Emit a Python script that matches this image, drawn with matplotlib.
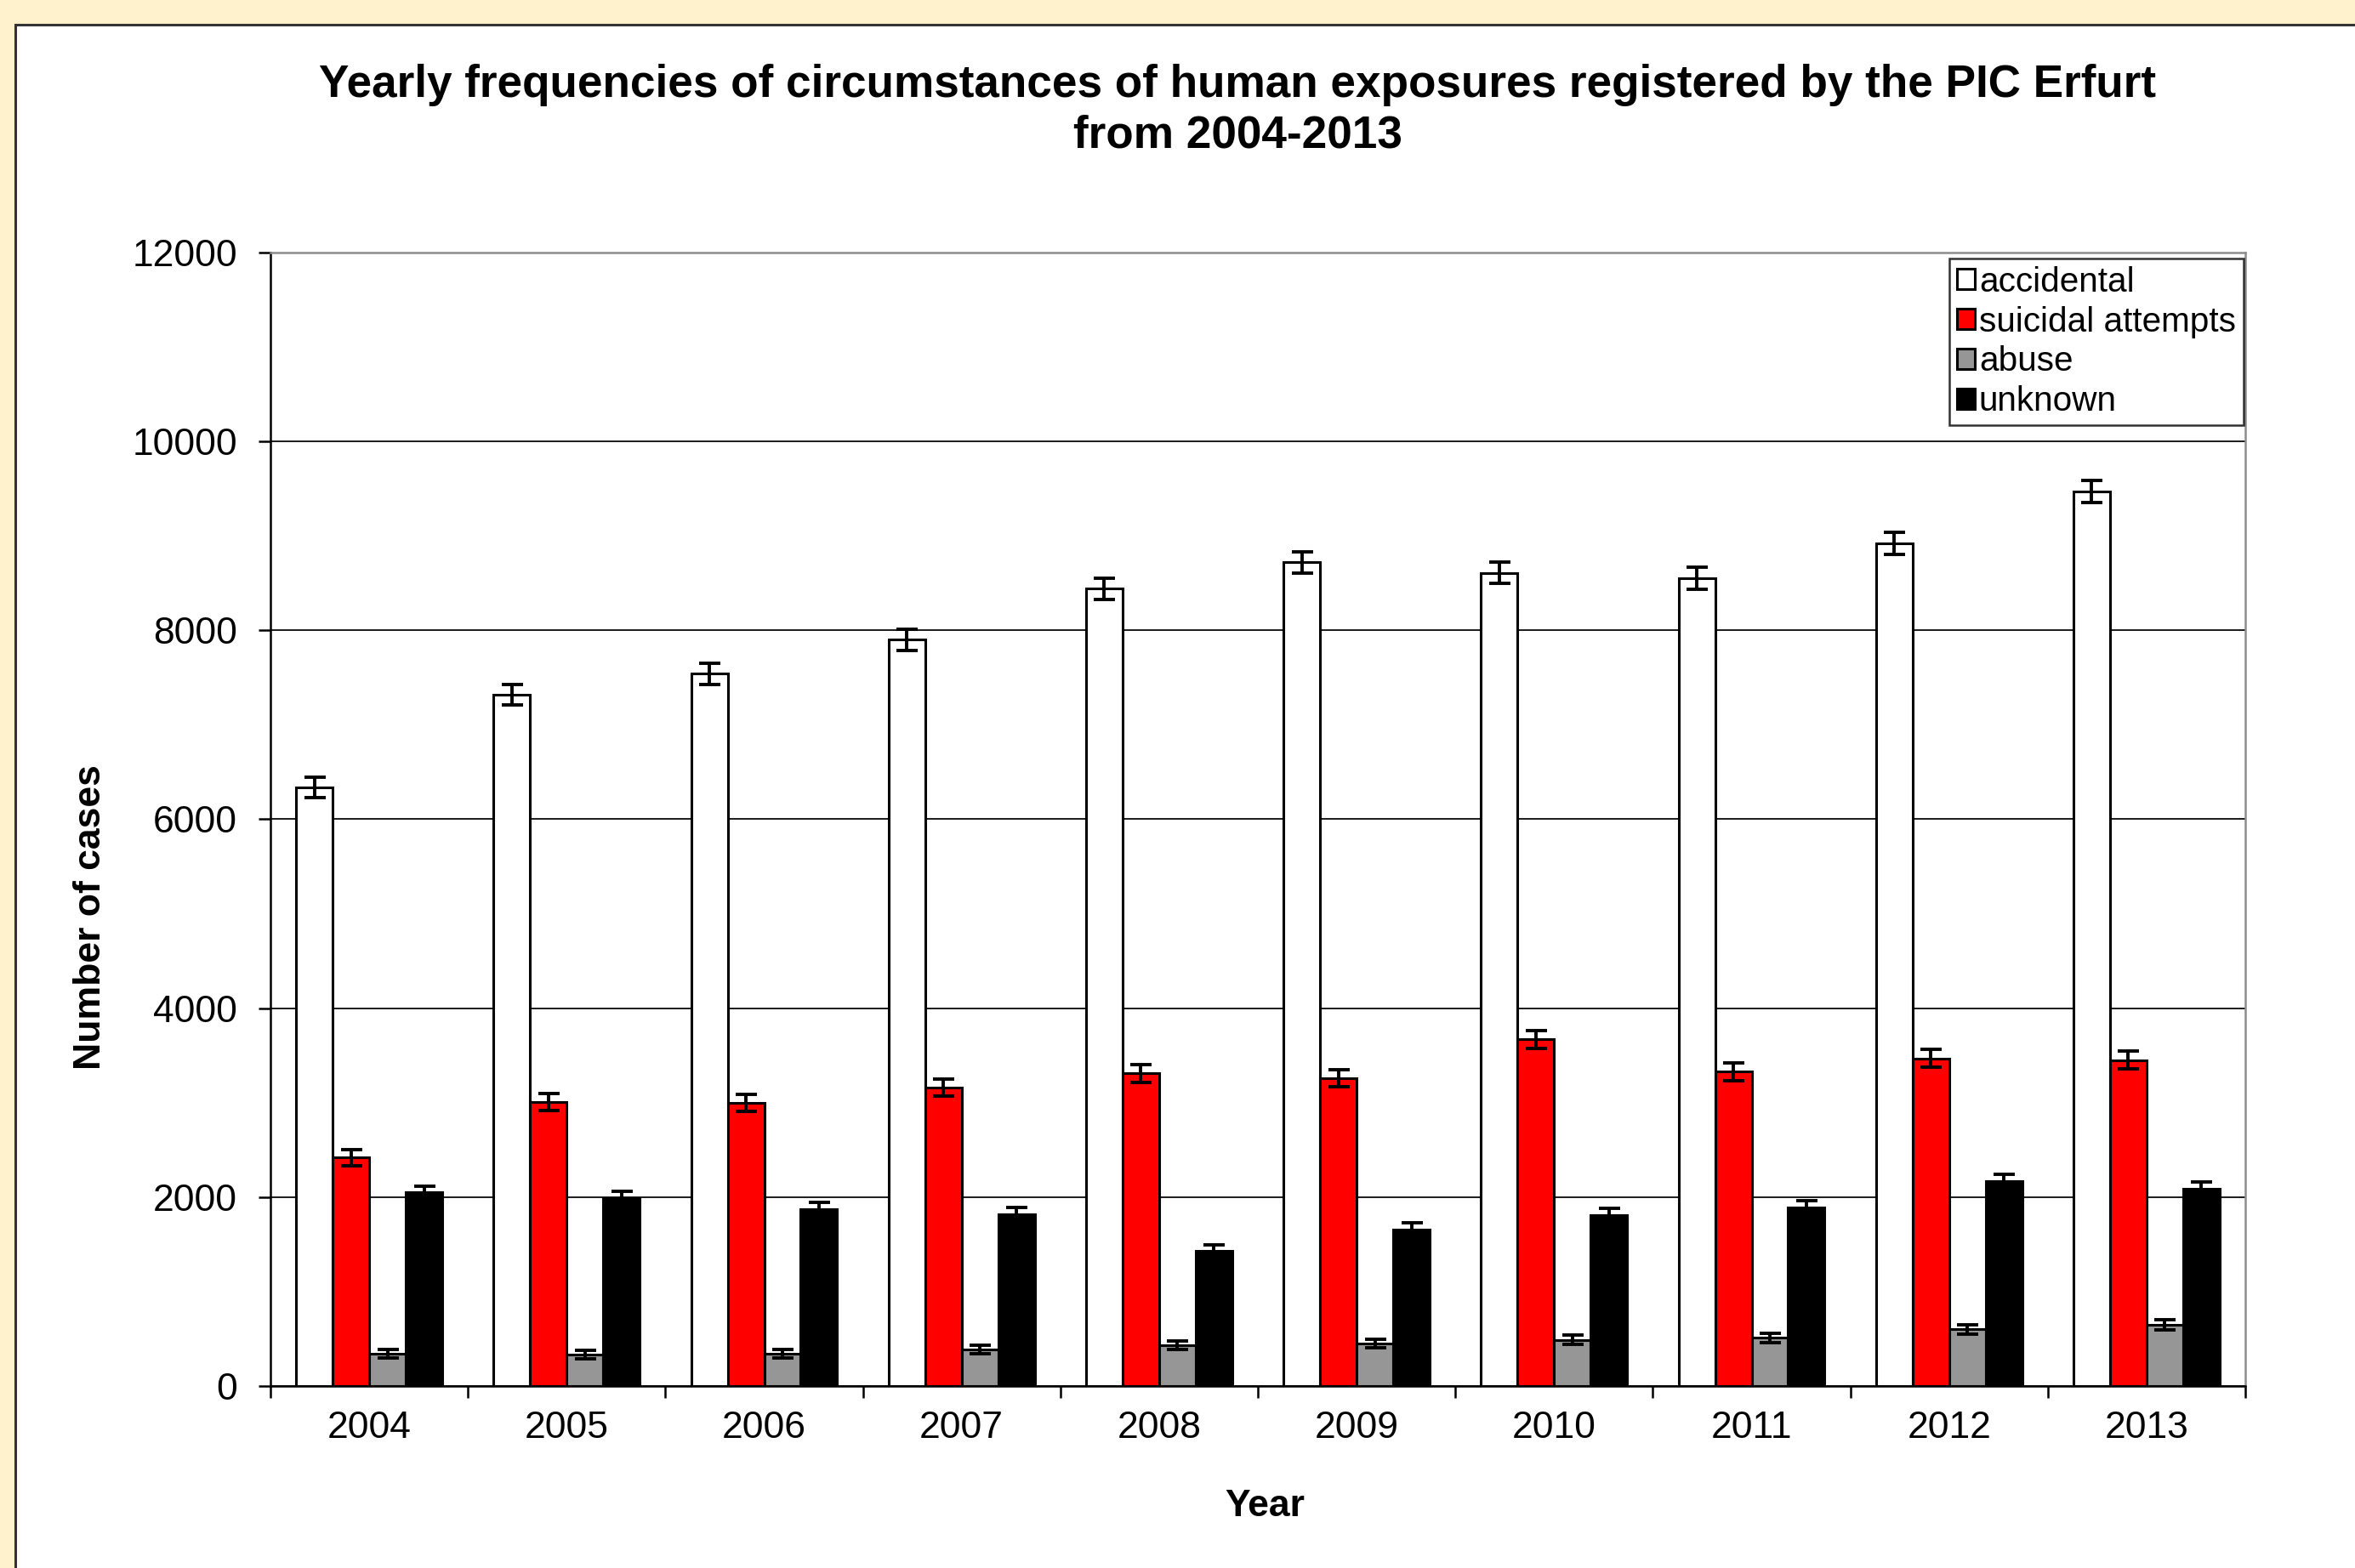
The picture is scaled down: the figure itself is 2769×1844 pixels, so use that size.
import matplotlib
matplotlib.use("Agg")
import matplotlib.pyplot as plt
import numpy as np
from matplotlib.patches import Rectangle

plt.rcParams['font.family'] = ['Liberation Sans', 'DejaVu Sans']

years = ['2004', '2005', '2006', '2007', '2008', '2009', '2010', '2011', '2012', '2013']
accidental = [6340, 7320, 7540, 7900, 8440, 8720, 8610, 8550, 8920, 9470]
suicidal = [2420, 3010, 3000, 3160, 3310, 3260, 3670, 3330, 3470, 3450]
abuse = [340, 330, 340, 390, 430, 450, 490, 510, 600, 650]
unknown = [2050, 1990, 1870, 1820, 1430, 1660, 1810, 1890, 2170, 2090]
# error bar half-widths
err_accidental = [110, 110, 115, 115, 115, 115, 115, 115, 120, 120]
err_suicidal = [85, 90, 90, 90, 95, 90, 95, 95, 95, 95]
err_abuse = [45, 45, 45, 45, 45, 45, 50, 50, 50, 55]
err_unknown = [70, 70, 70, 70, 65, 70, 70, 70, 75, 75]

series = [
    ('accidental', accidental, err_accidental, 'white'),
    ('suicidal attempts', suicidal, err_suicidal, '#ff0000'),
    ('abuse', abuse, err_abuse, '#969696'),
    ('unknown', unknown, err_unknown, 'black'),
]

fig = plt.figure(figsize=(13.845, 9.22), dpi=200)
fig.patch.set_facecolor('#fff2cc')
# white chart panel with dark border
fig.patches.append(Rectangle((18 / 2769, -0.01), 1.0, 1 - 29 / 1844 + 0.01,
                             transform=fig.transFigure, facecolor='white',
                             edgecolor='#333333', linewidth=1.1, zorder=-10))

ax = fig.add_axes([318 / 2769, 1 - 1630 / 1844, (2640 - 318) / 2769, (1630 - 297) / 1844])
ax.set_facecolor('white')

x = np.arange(len(years))
w = 0.185
for i, (name, vals, errs, col) in enumerate(series):
    ax.bar(x + (i - 1.5) * w, vals, w, color=col, edgecolor='black', linewidth=1.1,
           label=name, zorder=3,
           yerr=errs, error_kw=dict(ecolor='black', elinewidth=1.4, capsize=4.5, capthick=1.4, zorder=4))

ax.set_xlim(-0.5, len(years) - 0.5)
ax.set_ylim(0, 12000)
ax.set_yticks(np.arange(0, 12001, 2000))
ax.yaxis.grid(True, color='#1a1a1a', linewidth=0.7, zorder=0)
ax.set_axisbelow(True)

ax.set_xticks(x)
ax.set_xticklabels(years)
ax.set_xticks(np.arange(-0.5, len(years), 1.0), minor=True)
ax.tick_params(axis='x', which='major', length=0, pad=10.5, labelsize=16)
ax.tick_params(axis='x', which='minor', length=5, width=0.9, direction='out')
ax.tick_params(axis='y', length=5, width=0.9, direction='out', pad=9, labelsize=16)

for s in ['top', 'right']:
    ax.spines[s].set_color('#8c8c8c')
    ax.spines[s].set_linewidth(0.9)
for s in ['left', 'bottom']:
    ax.spines[s].set_color('black')
    ax.spines[s].set_linewidth(0.9)

lgd = ax.legend(loc='upper right', bbox_to_anchor=(0.999, 0.995), fontsize=14.6,
                frameon=True, fancybox=False, edgecolor='black', borderaxespad=0,
                handlelength=0.52, handleheight=0.52, handletextpad=0.12,
                labelspacing=0.22, borderpad=0.22)
lgd.get_frame().set_linewidth(0.9)

fig.text(0.5255, 1 - 100 / 1844, 'Yearly frequencies of circumstances of human exposures registered by the PIC Erfurt',
         ha='center', va='center', fontsize=19.15, fontweight='bold')
fig.text(0.5255, 1 - 160 / 1844, 'from 2004-2013',
         ha='center', va='center', fontsize=19.15, fontweight='bold')
fig.text(0.537, 1 - 1771 / 1844, 'Year', ha='center', va='center', fontsize=16, fontweight='bold')
fig.text(106 / 2769, 0.415, 'Number of cases', ha='center', va='center', rotation=90,
         fontsize=16, fontweight='bold')

plt.savefig('out.png', facecolor=fig.get_facecolor())
